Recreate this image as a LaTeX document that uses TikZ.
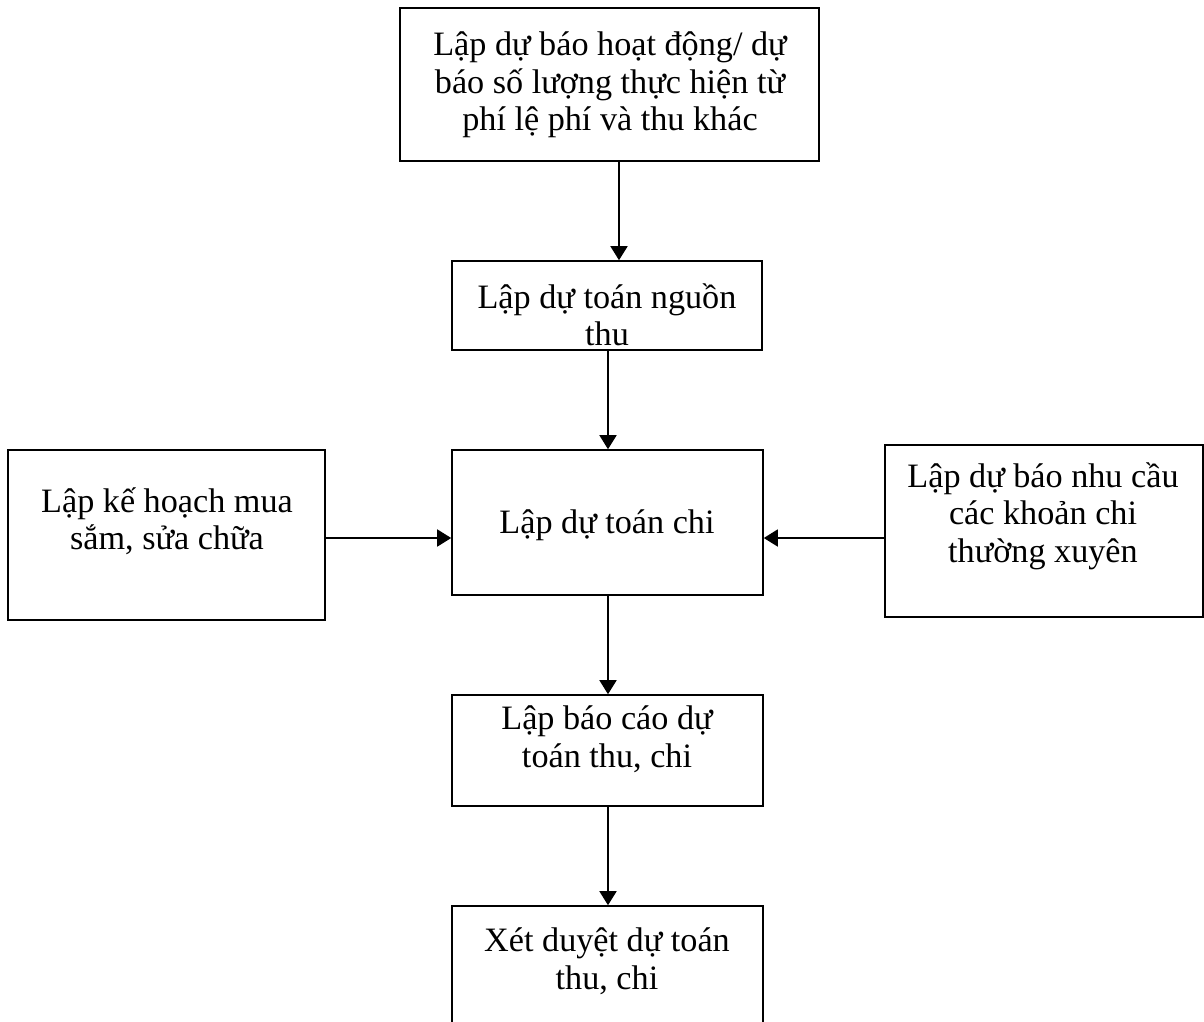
\documentclass[tikz,border=0pt]{standalone}
\usepackage{fontspec}
\setmainfont{Liberation Serif}
\usetikzlibrary{arrows.meta}
\begin{document}
\begin{tikzpicture}[x=1pt,y=-1pt,
  box/.style={draw=black,line width=1.6pt,rectangle,inner sep=0pt},
  txt/.style={align=center,inner sep=0pt,font=\fontsize{34.2}{37.5}\selectfont},
  arr/.style={line width=1.6pt,-{Triangle[length=14pt,width=17pt]}}]
\useasboundingbox[fill=white] (0,0) rectangle (1204,1021);
% boxes
\node[box,minimum width=419pt,minimum height=153pt] (b1) at (609.5,84.5) {};
\node[box,minimum width=310pt,minimum height=89pt] (b2) at (607,305.5) {};
\node[box,minimum width=311pt,minimum height=145pt] (b3) at (607.5,522.5) {};
\node[box,minimum width=317pt,minimum height=170pt] (b4) at (166.5,535) {};
\node[box,minimum width=318pt,minimum height=172pt] (b5) at (1044,531) {};
\node[box,minimum width=311pt,minimum height=111pt] (b6) at (607.5,750.5) {};
\node[box,minimum width=311pt,minimum height=121pt] (b7) at (607.5,966.5) {};
% texts
\node[txt] (t1) at (610,85) {Lập dự báo hoạt động/ dự\\báo số lượng thực hiện từ\\phí lệ phí và thu khác};
\node[txt] (t2) at (607,315) {Lập dự toán nguồn\\thu};
\node[txt] (t3) at (607,525) {Lập dự toán chi};
\node[txt] (t4) at (167,521) {Lập kế hoạch mua\\sắm, sửa chữa};
\node[txt] (t5) at (1043,516) {Lập dự báo nhu cầu\\các khoản chi\\thường xuyên};
\node[txt] (t6) at (607,739) {Lập báo cáo dự\\toán thu, chi};
\node[txt] (t7) at (607,961) {Xét duyệt dự toán\\thu, chi};
% arrows
\draw[arr] (b1.south -| 619,0) -- (b2.north -| 619,0);
\draw[arr] (b2.south -| 608,0) -- (b3.north -| 608,0);
\draw[arr] (b3.south -| 608,0) -- (b6.north -| 608,0);
\draw[arr] (b6.south -| 608,0) -- (b7.north -| 608,0);
\draw[arr] (b4.east |- 0,538) -- (b3.west |- 0,538);
\draw[arr] (b5.west |- 0,538) -- (b3.east |- 0,538);
\end{tikzpicture}
\end{document}
